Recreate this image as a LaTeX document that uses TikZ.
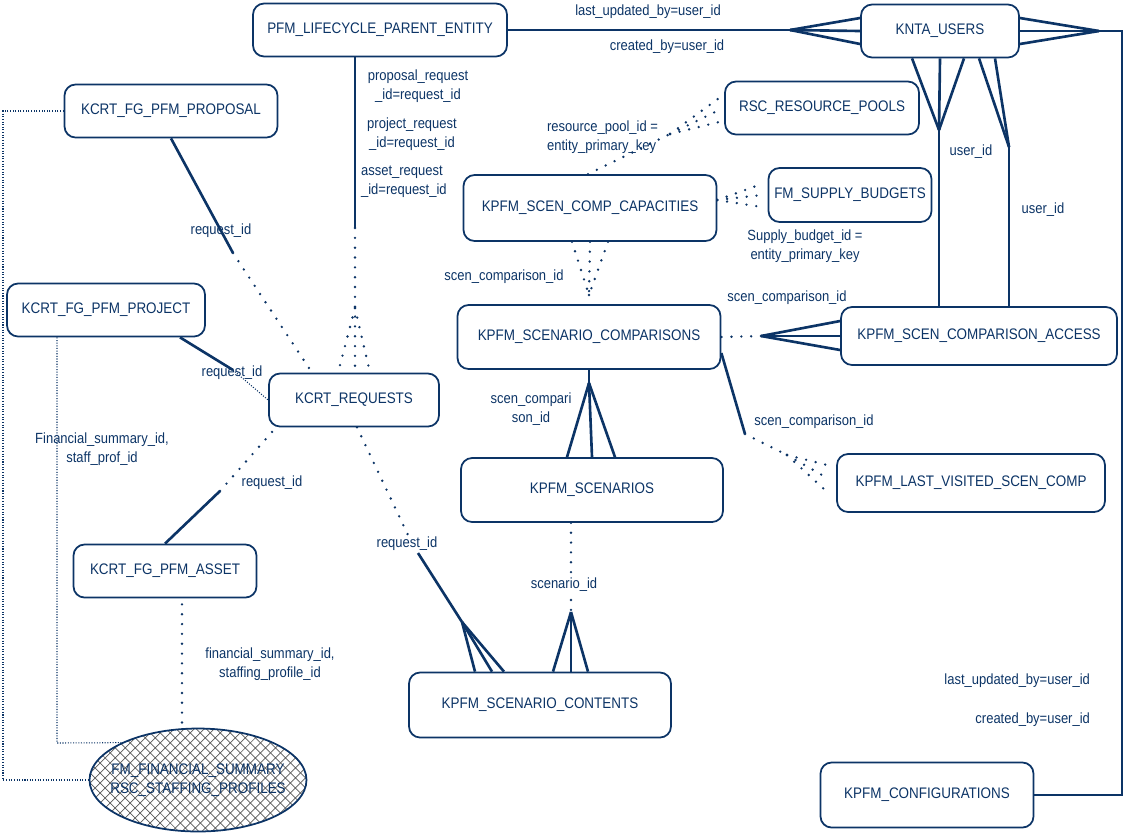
\documentclass[tikz,border=0pt]{standalone}
\usepackage{fontspec}
\setmainfont{Liberation Sans}[FakeStretch=0.88]
\usetikzlibrary{calc,shapes.geometric,patterns}
\definecolor{erdblue}{RGB}{12,52,102}
\pgfdeclarepatternformonly{xhatch}{\pgfqpoint{-0.5pt}{-0.5pt}}{\pgfqpoint{6.2pt}{6.2pt}}{\pgfqpoint{5.7pt}{5.7pt}}{%
  \pgfsetlinewidth{0.4pt}%
  \pgfpathmoveto{\pgfqpoint{0pt}{0pt}}\pgfpathlineto{\pgfqpoint{5.7pt}{5.7pt}}%
  \pgfpathmoveto{\pgfqpoint{0pt}{5.7pt}}\pgfpathlineto{\pgfqpoint{5.7pt}{0pt}}%
  \pgfusepath{stroke}}
\tikzset{
  entitytext/.style={text=erdblue,font=\fontsize{8.7}{10.8}\selectfont,align=center},
  entity/.style={rectangle,rounded corners=0.22cm,draw=erdblue,line width=1pt,
                 fill=white,entitytext,minimum width=#1,minimum height=1.06cm,
                 inner sep=2pt},
  entity/.default=4cm,
  rel/.style={erdblue,line width=1.5pt},
  optrel/.style={erdblue,line width=1.5pt,line cap=round,dash pattern=on 0pt off 5.6pt},
  thinrel/.style={erdblue,line width=0.6pt,dash pattern=on 0.6pt off 0.9pt},
  fk/.style={text=erdblue,font=\fontsize{8.4}{10.6}\selectfont,inner sep=1pt,align=center},
}

\begin{document}
\begin{tikzpicture}[x=0.02cm,y=-0.02cm]
\useasboundingbox (0,0) rectangle (1124,833);

% entities
\node[entity=5.08cm] (plce) at (380,30) {PFM\_LIFECYCLE\_PARENT\_ENTITY};
\node[entity=3.16cm] (users) at (940,31) {KNTA\_USERS};
\node[entity=4.26cm] (proposal) at (171,111) {KCRT\_FG\_PFM\_PROPOSAL};
\node[entity=3.88cm] (pools) at (822,108) {RSC\_RESOURCE\_POOLS};
\node[entity=3.26cm,minimum height=1.08cm] (budgets) at (850,195) {FM\_SUPPLY\_BUDGETS};
\node[entity=5.06cm,minimum height=1.32cm] (capacities) at (590,208) {KPFM\_SCEN\_COMP\_CAPACITIES};
\node[entity=3.96cm] (project) at (106,310) {KCRT\_FG\_PFM\_PROJECT};
\node[entity=3.4cm] (requests) at (354,400) {KCRT\_REQUESTS};
\node[entity=5.26cm,minimum height=1.28cm] (comparisons) at (589,337) {KPFM\_SCENARIO\_COMPARISONS};
\node[entity=5.52cm,minimum height=1.16cm] (access) at (979,336) {KPFM\_SCEN\_COMPARISON\_ACCESS};
\node[entity=5.36cm,minimum height=1.16cm] (lastvisited) at (971,483) {KPFM\_LAST\_VISITED\_SCEN\_COMP};
\node[entity=5.24cm,minimum height=1.28cm] (scenarios) at (592,490) {KPFM\_SCENARIOS};
\node[entity=3.66cm] (asset) at (165,571) {KCRT\_FG\_PFM\_ASSET};
\node[entity=5.24cm,minimum height=1.3cm] (contents) at (540,705) {KPFM\_SCENARIO\_CONTENTS};
\node[entity=4.26cm,minimum height=1.3cm] (configs) at (927,795) {KPFM\_CONFIGURATIONS};
\node[ellipse,draw=erdblue,line width=1pt,pattern=xhatch,pattern color=black!65,
      minimum width=4.34cm,minimum height=2.06cm,inner sep=0pt] (fmsum) at (198,780) {};
\node[entitytext] (fmsumtext) at (fmsum.center) {FM\_FINANCIAL\_SUMMARY\\RSC\_STAFFING\_PROFILES};

% lifecycle -- users
\coordinate (ua) at (790,30);
\draw[rel] (plce.east) -- (ua);
\foreach \d in {-13,0,13}
  \draw[rel] (ua) -- ($(users.west)+(0,\d)$);
\node[fk] (lupd1) at (648,12) {last\_updated\_by=user\_id};
\node[fk] (crt1) at (667,47) {created\_by=user\_id};

% users -- configurations
\coordinate (ub) at (1099,31);
\coordinate (ucorner) at (1122,31);
\foreach \d in {-13,0,13}
  \draw[rel] ($(users.east)+(0,\d)$) -- (ub);
\draw[rel] (ub) -- (ucorner) |- (configs.east);
\node[fk,anchor=east] (lupd2) at (1092,681) {last\_updated\_by=user\_id};
\node[fk,anchor=east] (crt2) at (1092,720) {created\_by=user\_id};

% users -- access
\coordinate (uc1) at (939,130);
\foreach \d in {-28,0,24}
  \draw[rel] ($(users.south)+(\d,0)$) -- (uc1);
\draw[rel] (uc1) -- (uc1 |- access.north);
\coordinate (uc2) at (1009,147);
\foreach \d in {39,55}
  \draw[rel] ($(users.south)+(\d,0)$) -- (uc2);
\draw[rel] (uc2) -- (uc2 |- access.north);
\node[fk] (uid1) at (971,152) {user\_id};
\node[fk] (uid2) at (1043,210) {user\_id};

% access -- comparisons
\coordinate (ac) at (761,336);
\foreach \d in {-15,0,14}
  \draw[rel] (ac) -- ($(access.west)+(0,\d)$);
\draw[optrel] (ac) -- (comparisons.east);
\node[fk] (scid1) at (787,298) {scen\_comparison\_id};

% comparisons -- last visited
\coordinate (lv1) at (745,434);
\coordinate (lv2) at (787,455);
\draw[rel] ($(comparisons.east)+(0,16)$) -- (lv1);
\draw[optrel] (lv1) -- (lv2);
\foreach \d in {-18,-5,9}
  \draw[optrel] (lv2) -- ($(lastvisited.west)+(-9,\d)$);
\node[fk] (scid2) at (814,422) {scen\_comparison\_id};

% comparisons -- scenarios
\coordinate (sc) at (589,383);
\draw[rel] (comparisons.south) -- (sc);
\foreach \d in {-25,0,23}
  \draw[rel] (sc) -- ($(scenarios.north)+(\d,0)$);
\node[fk] (scid3) at (531,409) {scen\_compari\\son\_id};

% capacities -- comparisons
\coordinate (cc) at (589,295);
\foreach \d in {-18,0,18}
  \draw[optrel] ($(capacities.south)+(\d,0)$) -- (cc);
\draw[optrel] (cc) -- (comparisons.north);
\node[fk] (scid4) at (504,277) {scen\_comparison\_id};

% capacities -- budgets
\coordinate (cb) at ($(capacities.east)+(0,-8)$);
\foreach \d in {-11,0,12}
  \draw[optrel] (cb) -- ($(budgets.west)+(-6,\d)$);
\node[fk] (sbid) at (805,246) {Supply\_budget\_id =\\entity\_primary\_key};

% capacities -- pools
\coordinate (cp) at (670,134);
\draw[optrel] ($(capacities.north)+(-2,0)$) -- (cp);
\foreach \d in {-10,2,14}
  \draw[optrel] (cp) -- ($(pools.west)+(-5,\d)$);
\node[fk,align=left,anchor=west] (rpid) at (545,137) {resource\_pool\_id =\\entity\_primary\_key};

% lifecycle -- requests
\coordinate (pr1) at (355,228);
\coordinate (pr2) at (355,308);
\draw[rel] (pr1 |- plce.south) -- (pr1);
\draw[optrel] (pr1) -- (pr1 |- requests.north);
\foreach \d in {-16,16}
  \draw[optrel] (pr2) -- ($(requests.north)+(\d,0)$);
\node[fk] (prq) at (418,86) {proposal\_request\\\_id=request\_id};
\node[fk] (pjq) at (412,134) {project\_request\\\_id=request\_id};
\node[fk,align=left,anchor=west] (asq) at (359,182) {asset\_request\\\_id=request\_id};

% proposal -- requests
\coordinate (kp) at (233,253);
\draw[rel] (proposal.south) -- (kp);
\draw[optrel] (kp) -- ($(requests.north)+(-42,0)$);
\node[fk] (rq1) at (221,231) {request\_id};

% project -- requests
\coordinate (kj) at (233,370);
\draw[rel] ($(project.south)+(74,0)$) -- (kj);
\draw[thinrel] (kj) -- (requests.west);
\node[fk] (rq2) at (232,373) {request\_id};

% asset -- requests
\coordinate (ka) at (220,491);
\draw[rel] (asset.north) -- (ka);
\draw[optrel] (ka) -- ($(requests.south)+(-78,0)$);
\node[fk] (rq3) at (272,483) {request\_id};

% requests -- contents
\coordinate (rc1) at (408,535);
\coordinate (rc2) at (418,553);
\coordinate (rc3) at (462,622);
\draw[optrel] ($(requests.south)+(3,0)$) -- (rc1);
\draw[rel] (rc2) -- (rc3);
\foreach \d in {-65,-48,-36}
  \draw[rel] (rc3) -- ($(contents.north)+(\d,0)$);
\node[fk] (rq4) at (407,544) {request\_id};

% scenarios -- contents
\coordinate (sn1) at (571,575);
\coordinate (sn2) at (571,600);
\coordinate (sn) at (571,612);
\draw[optrel] ($(scenarios.south)+(-21,0)$) -- (sn1);
\draw[optrel] (sn2) -- (sn);
\foreach \d in {13,31,48}
  \draw[rel] (sn) -- ($(contents.north)+(\d,0)$);
\node[fk] (snid) at (564,585) {scenario\_id};

% financial summary links
\draw[optrel] ($(asset.south)+(17,6)$) -- ($(fmsum.north)+(-16,-4)$);
\node[fk] (fsid1) at (270,664) {financial\_summary\_id,\\staffing\_profile\_id};
\coordinate (fj) at (57,743);
\draw[thinrel] ($(project.south)+(-49,0)$) -- (fj) -- (fmsum.154);
\node[fk] (fsid2) at (102,449) {Financial\_summary\_id,\\staff\_prof\_id};
\coordinate (fr) at (3,111);
\draw[thinrel] (proposal.west) -- (fr) |- (fmsum.west);
\end{tikzpicture}
\end{document}
